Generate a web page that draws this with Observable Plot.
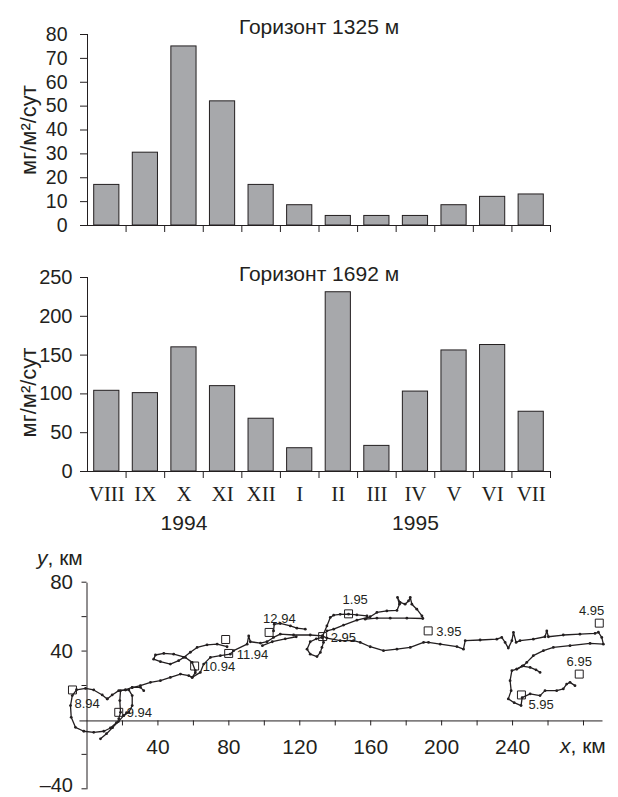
<!DOCTYPE html>
<html><head><meta charset="utf-8">
<script src="https://cdn.jsdelivr.net/npm/d3@7"></script>
<script src="https://cdn.jsdelivr.net/npm/@observablehq/plot@0.6"></script>
<style>
body{margin:0;background:#fff;}
#wrap{position:relative;width:618px;height:797px;overflow:hidden;font-family:"Liberation Sans",Arial,sans-serif;color:#231f20;background:#fff;}
#wrap svg{position:absolute;left:0;}
.axlab{position:absolute;font-size:21px;line-height:1;white-space:nowrap;}
</style></head><body><div id="wrap"></div>
<script>
// ---------- data: sediment trap flux ----------
const months = ["VIII","IX","X","XI","XII","I","II","III","IV","V","VI","VII"];
const flux1325 = [17, 30.5, 75, 52, 17, 8.5, 4, 4, 4, 8.5, 12, 13];
const flux1692 = [104, 101, 160, 110, 68, 30, 231, 33, 103, 156, 163, 77];
const titles = ["Горизонт 1325 м", "Горизонт 1692 м"];
const yLabel = "мг/м²/сут";
const ticks1325 = [0, 10, 20, 30, 40, 50, 60, 70, 80];
const ticks1692 = [0, 50, 100, 150, 200, 250];
const years = ["1994", "1995"];
const yearUnder = ["X", "IV"];

// ---------- data: drift trajectory (km) ----------
const trackLoopWest = [[11.4,12.8],[8.6,15.1],[3.8,18.0],[-0.8,18.9],[-5.9,18.1],[-8.3,14.7],[-9.3,8.9],[-8.9,2.1],[-6.5,-3.7],[-1.8,-6.0],[3.8,-6.6],[9.5,-6.0],[13.2,-4.1],[16.6,-1.0]];
const trackDiagonal = [[7.6,-10.4],[11.0,-7.4],[14.4,-3.9],[17.7,-0.4],[20.7,3.1],[22.3,4.8]];
const trackLoopSmall = [[17.9,1.2],[18.9,5.0],[18.5,11.8],[18.9,17.6],[21.7,18.0],[23.6,18.0],[25.5,14.7],[25.5,8.9],[23.6,5.0],[20.7,3.1]];
const trackLink = [[11.4,12.8],[14.2,15.1],[17.9,17.6],[21.7,18.0],[25.5,19.5],[30.1,19.5],[32.0,17.6]];
const trackToOct = [[25.5,19.3],[30.1,20.5],[35.8,22.4],[41.4,23.4],[47.0,25.3],[52.7,27.2],[57.4,26.3],[59.3,25.3],[61.1,28.0]];
const trackFigure = [[61.1,29.2],[59.3,34.0],[55.5,36.9],[48.9,38.8],[43.3,39.2],[38.6,38.3],[37.6,35.9],[41.4,34.4],[47.0,33.0],[51.7,35.0],[54.5,36.9],[58.3,39.9],[62.1,42.7],[67.7,44.2],[73.4,44.6],[79.0,43.1]];
const trackMain = [[59.3,25.3],[63.9,28.2],[65.8,33.0],[69.6,36.9],[75.2,37.9],[80.8,38.8],[82.7,40.8],[90.3,44.6],[91.2,49.4],[92.1,46.0],[97.8,45.2],[101.5,46.0],[105.2,48.5],[109.0,50.4],[116.5,49.9],[125.9,49.9],[132.7,49.4],[135.3,48.1],[142.8,46.6],[150.3,46.6],[154.1,45.6],[159.7,43.1],[167.2,40.8],[174.8,41.7],[182.3,42.7],[189.8,45.6],[192.6,45.6],[199.2,44.6],[208.6,43.2],[212.3,41.7],[213.3,46.6],[221.7,47.0],[231.1,47.5],[233.9,48.5],[235.8,45.6],[237.6,42.3],[239.6,46.6],[240.5,51.4],[242.0,45.6],[244.2,46.6],[251.7,47.5],[258.3,48.9],[259.3,52.3],[260.2,48.9],[268.6,49.9],[278.0,50.4],[286.5,50.8],[288.4,51.5],[290.3,48.5],[291.2,44.6],[283.7,45.0],[272.4,43.7],[263.0,42.7],[257.4,40.8],[251.7,37.9],[248.0,34.0],[246.1,32.1],[242.4,30.1],[239.6,29.2],[238.6,23.4],[239.2,17.6],[237.6,12.8],[240.9,10.6],[244.8,8.9],[245.4,13.5],[249.9,15.7],[255.5,14.7],[258.3,17.6],[264.9,17.6],[268.6,18.6],[270.5,21.4],[272.4,22.4],[275.2,20.5]];
const trackDecArc = [[105.2,52.3],[105.6,56.2],[109.0,56.6],[114.7,55.2],[118.4,53.9],[123.1,53.3]];
const trackDecLow = [[98.9,43.7],[104.5,46.0],[111.8,47.7],[118.0,48.9]];
const trackFebBlob = [[132.5,48.5],[129.3,47.7],[125.9,46.0],[124.1,41.7],[125.9,38.8],[129.7,37.4],[131.6,39.8],[132.5,42.7],[133.4,45.6],[132.9,48.3]];
const trackToJan = [[132.9,49.4],[135.3,55.2],[137.2,60.1],[139.1,61.4],[142.8,61.9],[147.5,62.0],[152.2,61.6],[157.9,61.0]];
const trackLobeNE = [[135.3,52.3],[139.1,53.3],[144.7,55.7],[152.2,58.5],[159.7,60.5],[163.5,63.0],[169.1,63.9],[174.8,64.2],[176.2,67.8],[175.1,71.7],[176.6,68.8],[179.4,67.8],[181.3,69.7],[182.3,71.7],[183.2,67.8],[186.0,64.9],[188.9,61.0],[189.4,59.5],[180.4,59.7],[171.0,59.7],[163.5,59.7],[156.9,59.1]];
const trackBranch = [[242.4,30.1],[245.4,31.8],[249.9,31.1],[253.2,29.7],[255.5,28.2]];

const stationNames = ["8.94","9.94","10.94","11.94","12.94","1.95","2.95","3.95","4.95","5.95","6.95"];
const stationX = [-8.2, 17.9, 60.7, 79.9, 102.7, 147.5, 132.9, 192.4, 288.9, 245.0, 277.6];
const stationY = [18.0, 5.0, 31.9, 39.2, 51.4, 62.2, 49.0, 52.3, 56.8, 15.1, 27.2];
const stationSide = ["below","right","right","right","aboveRight","aboveRight","right","right","aboveLeft","belowRight","above"];
const extraSquareX = [78.2];
const extraSquareY = [47.3];

const xTicksTrack = [20, 40, 60, 80, 100, 120, 140, 160, 180, 200, 220, 240, 260, 280];
const xTickLabelsTrack = [40, 80, 120, 160, 200, 240];
const yTicksTrack = [-40, -20, 20, 40, 60, 80];
const yTickLabelsTrack = [40, 80];
const yTickLabelsTrackLow = [-40];

// ---------- drawing ----------
const ink = "#231f20";
const barFill = "#a7a8ab";
const wrap = document.getElementById("wrap");

function barChart(values, title, ticks, o) {
  const data = values.map((v, i) => ({i, v}));
  const marks = [
    Plot.rectY(data, {x1: "i", x2: d => d.i + 1, y: "v", insetLeft: 6.7, insetRight: 6.7, fill: barFill, stroke: ink, strokeWidth: 1}),
    Plot.ruleX([0], {stroke: ink}),
    Plot.ruleY([0], {stroke: ink}),
    Plot.axisY({ticks, tickSize: 7, tickPadding: o.tickPadding, fontSize: o.fontSize, label: null}),
    Plot.axisX({ticks: d3.range(1, 13), tickSize: 7, tickFormat: () => "", label: null}),
    Plot.text([title], {frameAnchor: "top", dy: o.titleDy, fontSize: 21, fill: ink}),
    Plot.text([yLabel], {frameAnchor: "left", textAnchor: "middle", rotate: -90, dx: -59, dy: o.labelDy, fontSize: 22, fill: ink})
  ];
  if (o.showMonths) {
    marks.push(Plot.axisX({ticks: d3.range(12).map(i => i + 0.5), tickSize: 0, tickPadding: 15,
      tickFormat: t => months[Math.floor(t)], fontSize: 21, fontFamily: "Liberation Serif", label: null}));
    marks.push(Plot.text(years, {x: (d, i) => months.indexOf(yearUnder[i]) + 0.5, y: 0, dy: 52, fontSize: 21, fill: ink}));
  }
  const svg = Plot.plot({
    width: 618, height: o.height,
    marginLeft: 87, marginRight: 68, marginTop: o.mt, marginBottom: o.mb,
    x: {domain: [0, 12], axis: null}, y: {domain: [0, ticks[ticks.length - 1]], axis: null},
    style: {fontFamily: "Liberation Sans, Arial, sans-serif", color: ink, background: "transparent"},
    marks
  });
  svg.style.top = o.top + "px";
  wrap.appendChild(svg);
}

barChart(flux1325, titles[0], ticks1325, {top: 0, height: 250, mt: 34, mb: 25, tickPadding: 13, fontSize: 19.5, titleDy: -15, labelDy: 0, showMonths: false});
barChart(flux1692, titles[1], ticks1692, {top: 250, height: 290, mt: 27, mb: 69, tickPadding: 8, fontSize: 20, titleDy: -11.5, labelDy: 18, showMonths: true});

// trajectory
const segs = [trackLoopWest, trackDiagonal, trackLoopSmall, trackLink, trackToOct, trackFigure, trackMain, trackDecArc, trackDecLow, trackFebBlob, trackToJan, trackLobeNE, trackBranch];
const track = segs.flatMap((s, k) => s.map(([x, y]) => ({x, y, seg: k})));
const stations = stationNames.map((name, i) => ({name, x: stationX[i], y: stationY[i], side: stationSide[i]}));
const extra = extraSquareX.map((x, i) => ({x, y: extraSquareY[i]}));
const place = {
  right: {textAnchor: "start", dx: 8, dy: 1},
  below: {textAnchor: "start", dx: 2, dy: 14},
  belowRight: {textAnchor: "start", dx: 7, dy: 10},
  above: {textAnchor: "middle", dx: 0, dy: -12},
  aboveRight: {textAnchor: "start", dx: -6, dy: -14},
  aboveLeft: {textAnchor: "end", dx: 5, dy: -12}
};
const fmtTick = d => d < 0 ? "\u2013" + (-d) : String(d);

const trackMarks = [
  Plot.ruleX([0], {y1: -40, y2: 80, stroke: ink}),
  Plot.ruleY([0], {x1: -4, x2: 291, stroke: ink}),
  Plot.axisY({ticks: yTicksTrack, tickSize: 5, tickPadding: 9, fontSize: 20.5, label: null, dy: -1,
    tickFormat: d => yTickLabelsTrack.includes(d) ? fmtTick(d) : ""}),
  Plot.text(yTickLabelsTrackLow, {x: () => 0, y: d => d, text: fmtTick, textAnchor: "end", dx: -14, dy: -4, fontSize: 20, fill: ink}),
  Plot.ruleX(xTicksTrack, {x: d => d, y1: 0, y2: 0, insetBottom: -5, stroke: ink}),
  Plot.text(xTickLabelsTrack, {x: d => d, y: 0, dy: 26, text: d => String(d), fontSize: 21, fill: ink}),
  Plot.line(track, {x: "x", y: "y", z: "seg", stroke: ink, strokeWidth: 1.3}),
  Plot.dot(track, {x: "x", y: "y", r: 1.4, fill: ink, stroke: null}),
  Plot.dot(stations, {x: "x", y: "y", symbol: "square", r: 4.5, stroke: ink, strokeWidth: 1, fill: "none"}),
  Plot.dot(extra, {x: "x", y: "y", symbol: "square", r: 4.5, stroke: ink, strokeWidth: 1, fill: "none"})
];
for (const [side, p] of Object.entries(place)) {
  trackMarks.push(Plot.text(stations.filter(d => d.side === side), {x: "x", y: "y", text: "name", fontSize: 13, fill: ink, ...p}));
}
const trackSvg = Plot.plot({
  width: 618, height: 257,
  marginLeft: 86.5, marginRight: 15.5, marginTop: 42.7, marginBottom: 7.7,
  x: {domain: [0, 291], axis: null}, y: {domain: [-40, 80], axis: null},
  style: {fontFamily: "Liberation Sans, Arial, sans-serif", color: ink, background: "transparent", overflow: "visible"},
  marks: trackMarks
});
trackSvg.style.top = "540px";
wrap.appendChild(trackSvg);

const yl = document.createElement("div");
yl.className = "axlab"; yl.style.left = "37px"; yl.style.top = "547px";
yl.innerHTML = "<i>y</i>, км";
wrap.appendChild(yl);
const xl = document.createElement("div");
xl.className = "axlab"; xl.style.left = "560px"; xl.style.top = "735px";
xl.innerHTML = "<i>x</i>, км";
wrap.appendChild(xl);
</script>
</body></html>
